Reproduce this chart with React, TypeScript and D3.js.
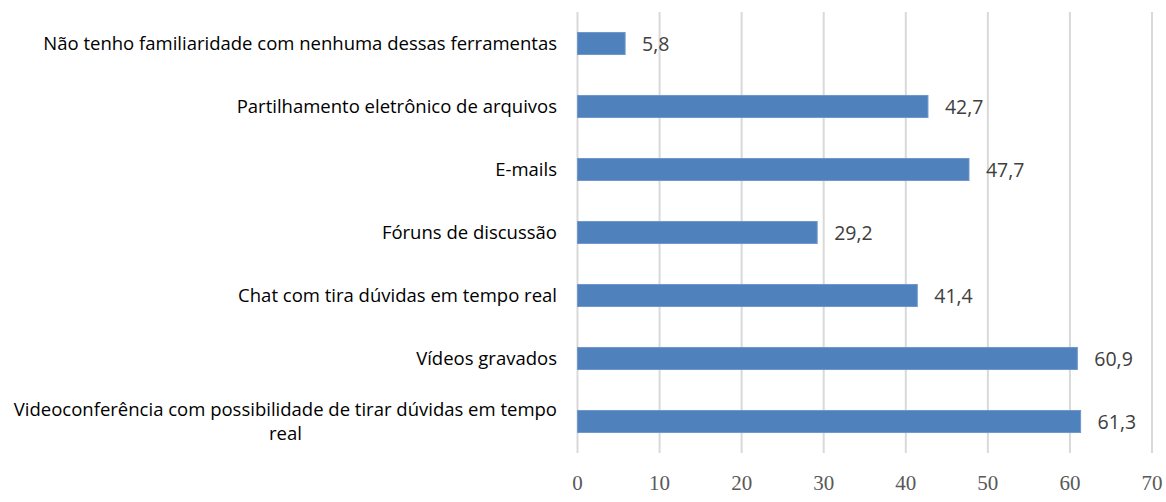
import React, { useEffect, useRef } from "react"
import * as d3 from "d3"

const categories = [
  "Não tenho familiaridade com nenhuma dessas ferramentas",
  "Partilhamento eletrônico de arquivos",
  "E-mails",
  "Fóruns de discussão",
  "Chat com tira dúvidas em tempo real",
  "Vídeos gravados",
  "Videoconferência com possibilidade de tirar dúvidas em tempo|real",
]
const values = [5.8, 42.7, 47.7, 29.2, 41.4, 60.9, 61.3]
const ticks = [0, 10, 20, 30, 40, 50, 60, 70]

const App = () => {
  const ref = useRef<SVGSVGElement>(null)

  useEffect(() => {
    const svg = d3.select(ref.current)
    svg.selectAll("*").remove()

    const left = 577.5
    const right = 1152
    const top = 12
    const bottom = 453

    const x = d3.scaleLinear().domain([0, 70]).range([left, right])
    const y = d3
      .scaleBand()
      .domain(categories)
      .range([top, bottom])
      .paddingInner(0.65)
      .paddingOuter(0.325)

    // gridlines
    svg
      .append("g")
      .selectAll("line")
      .data(ticks)
      .join("line")
      .attr("x1", (d) => x(d))
      .attr("x2", (d) => x(d))
      .attr("y1", top)
      .attr("y2", bottom)
      .attr("stroke", "#d9d9d9")
      .attr("stroke-width", 2)

    // tick labels
    svg
      .append("g")
      .selectAll("text")
      .data(ticks)
      .join("text")
      .attr("x", (d) => x(d))
      .attr("y", 490)
      .attr("text-anchor", "middle")
      .attr("font-family", "'Liberation Serif', serif")
      .attr("font-size", 21)
      .attr("fill", "#595959")
      .text((d) => d)

    // bars
    svg
      .append("g")
      .selectAll("rect")
      .data(values)
      .join("rect")
      .attr("x", x(0))
      .attr("y", (_, i) => y(categories[i])!)
      .attr("width", (d) => x(d) - x(0))
      .attr("height", y.bandwidth())
      .attr("fill", "#4f81bd")
      .attr("stroke", "#6f97c9")
      .attr("stroke-width", 1)

    // value labels
    svg
      .append("g")
      .selectAll("text")
      .data(values)
      .join("text")
      .attr("x", (d) => x(d) + 17)
      .attr("y", (_, i) => y(categories[i])! + y.bandwidth() / 2)
      .attr("dy", "0.36em")
      .attr("font-family", "'Open Sans', sans-serif")
      .attr("font-size", 19.5)
      .attr("fill", "#404040")
      .text((d) => String(d).replace(".", ","))

    // category labels
    const labelRight = 557
    categories.forEach((c) => {
      const cy = y(c)! + y.bandwidth() / 2
      const lines = c.split("|")
      const g = svg
        .append("g")
        .attr("font-family", "'Open Sans', sans-serif")
        .attr("font-size", 18.5)
        .attr("fill", "#000")
      if (lines.length === 1) {
        g.append("text")
          .attr("x", labelRight)
          .attr("y", cy)
          .attr("dy", "0.36em")
          .attr("text-anchor", "end")
          .text(lines[0])
      } else {
        const first = g
          .append("text")
          .attr("x", labelRight)
          .attr("y", cy - 12)
          .attr("dy", "0.36em")
          .attr("text-anchor", "end")
          .text(lines[0])
        const w = (first.node() as SVGTextElement).getComputedTextLength()
        g.append("text")
          .attr("x", labelRight - w / 2)
          .attr("y", cy + 12)
          .attr("dy", "0.36em")
          .attr("text-anchor", "middle")
          .text(lines[1])
      }
    })
  }, [])

  return (
    <svg
      ref={ref}
      width={1166}
      height={502}
      style={{ position: "absolute", left: 0, top: 0, background: "#fff" }}
    />
  )
}

export default App
